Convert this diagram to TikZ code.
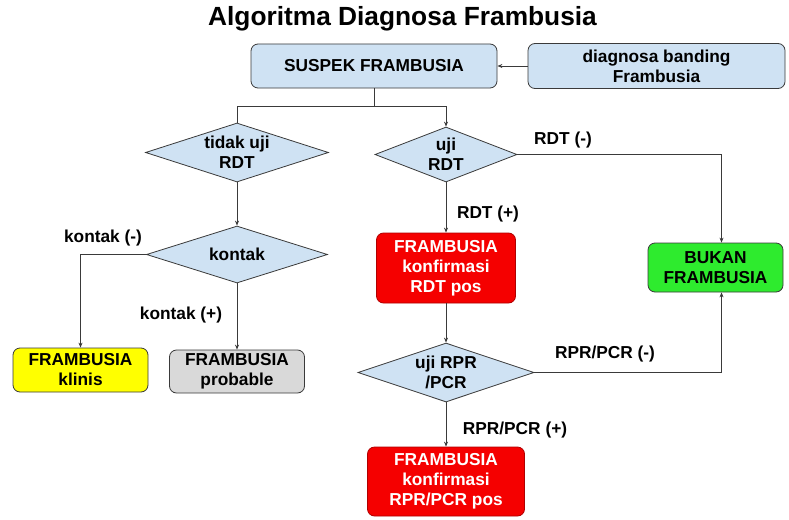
\documentclass[tikz,border=0pt]{standalone}
\usepackage{fontspec}
\setmainfont{Liberation Sans}
\usetikzlibrary{shapes.geometric,arrows.meta}
\definecolor{boxblue}{HTML}{CFE2F3}
\definecolor{edge}{HTML}{3A3A3A}
\definecolor{redfill}{HTML}{F50000}
\definecolor{redline}{HTML}{B00000}
\definecolor{yelfill}{HTML}{FFFF00}
\definecolor{grayfill}{HTML}{D9D9D9}
\definecolor{greenfill}{HTML}{2EEB2E}
\begin{document}
\begin{tikzpicture}[x=1pt,y=-1pt,
  txt/.style={font=\fontsize{17.3}{20}\selectfont\bfseries},
  box/.style={txt, draw=edge, line width=0.8pt, rounded corners=7pt, align=center, inner sep=0pt},
  dia/.style={diamond, draw=edge, fill=boxblue, line width=0.8pt, inner sep=0pt},
  dtext/.style={txt, align=center},
  conn/.style={draw=edge, line width=0.8pt},
  arr/.style={conn, -{Stealth[length=5pt,width=4pt]}}]
\useasboundingbox (0,0) rectangle (789,519);
\fill[white] (0,0) rectangle (789,519);

\node[font=\fontsize{26.3}{30}\selectfont\bfseries] (title) at (402.5,19) {Algoritma Diagnosa Frambusia};

\node[box, fill=boxblue, minimum width=246pt, minimum height=44pt] (suspek) at (374,66) {SUSPEK FRAMBUSIA};
\node[box, fill=boxblue, minimum width=257pt, minimum height=45pt] (diag) at (656.5,66) {diagnosa banding\\Frambusia};

\node[dia, minimum width=183pt, minimum height=59pt, label={[dtext]center:{tidak uji\\RDT}}] (tidak) at (237,152.5) {};
\node[dia, minimum width=142pt, minimum height=55pt, label={[dtext]center:{uji\\RDT}}] (uji) at (446,154.5) {};
\node[dia, minimum width=181pt, minimum height=57pt, label={[dtext]center:{kontak}}] (kontak) at (237,254.5) {};
\node[dia, minimum width=176pt, minimum height=59pt, label={[dtext]center:{uji RPR\\/PCR}}] (rpr) at (446,372.5) {};

\node[box, fill=yelfill, minimum width=135pt, minimum height=44pt] (klinis) at (80.5,370) {FRAMBUSIA\\klinis};
\node[box, fill=grayfill, minimum width=135pt, minimum height=43pt] (probable) at (237,371.5) {FRAMBUSIA\\probable};
\node[box, fill=redfill, draw=redline, text=white, minimum width=139pt, minimum height=70pt] (red1) at (446,268) {FRAMBUSIA\\konfirmasi\\RDT pos};
\node[box, fill=greenfill, minimum width=135pt, minimum height=49pt] (bukan) at (715.5,267.5) {BUKAN\\FRAMBUSIA};
\node[box, fill=redfill, draw=redline, text=white, minimum width=157pt, minimum height=69pt] (red2) at (446,481.5) {FRAMBUSIA\\konfirmasi\\RPR/PCR pos};

% connectors
\draw[arr] (diag.west) -- (suspek.east);
\coordinate (split) at ([yshift=-18pt]suspek.south);
\draw[conn] (suspek.south) -- (split);
\draw[conn] (split) -| (tidak.north);
\draw[arr] (split) -| (uji.north);
\draw[arr] (tidak.south) -- (kontak.north);
\draw[arr] (kontak.west) -| (klinis.north);
\draw[arr] (kontak.south) -- (probable.north);
\draw[arr] (uji.south) -- (red1.north);
\coordinate (bukantop) at ([xshift=6pt]bukan.north);
\coordinate (bukanbot) at ([xshift=6pt]bukan.south);
\draw[arr] (uji.east) -| (bukantop);
\draw[arr] (red1.south) -- (rpr.north);
\draw[arr] (rpr.east) -| (bukanbot);
\draw[arr] (rpr.south) -- (red2.north);

% edge labels
\node[txt] (l1) at (563,140) {RDT (-)};
\node[txt] (l2) at (488,214) {RDT (+)};
\node[txt] (l3) at (103,238) {kontak (-)};
\node[txt] (l4) at (181,315) {kontak (+)};
\node[txt] (l5) at (605,354) {RPR/PCR (-)};
\node[txt] (l6) at (515,430) {RPR/PCR (+)};
\end{tikzpicture}
\end{document}
